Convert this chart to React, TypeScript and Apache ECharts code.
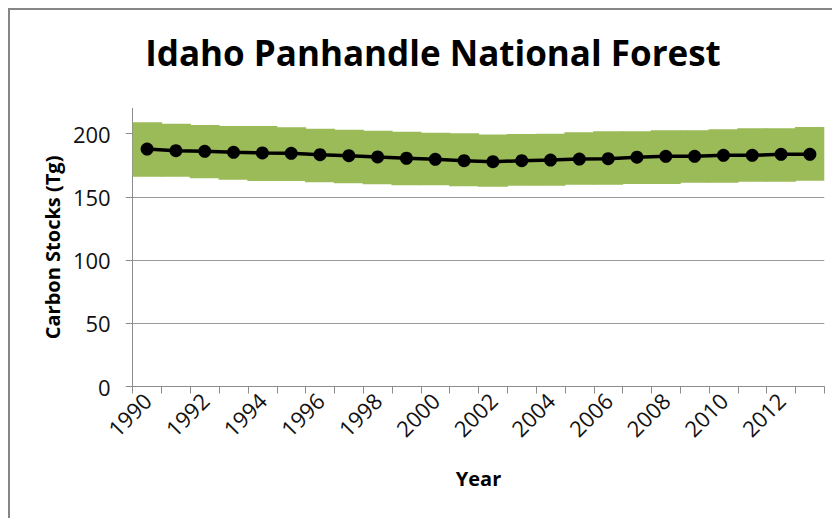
import React, { useEffect, useRef } from "react";
import * as echarts from "echarts";

const years = [
  "1990", "1991", "1992", "1993", "1994", "1995", "1996", "1997", "1998", "1999",
  "2000", "2001", "2002", "2003", "2004", "2005", "2006", "2007", "2008", "2009",
  "2010", "2011", "2012", "2013",
];

const carbonStocks = [
  187.8, 186.5, 186.0, 185.2, 184.7, 184.4, 183.3, 182.5, 181.5, 180.5,
  179.7, 178.6, 177.8, 178.6, 179.1, 179.9, 180.2, 181.3, 182.0, 182.0,
  182.8, 182.8, 183.6, 183.6,
];

const upperBound = [
  209.0, 207.8, 206.8, 206.0, 206.0, 205.0, 203.9, 203.1, 202.3, 201.5,
  200.7, 200.2, 199.3, 199.7, 199.9, 201.0, 201.8, 201.8, 202.6, 202.6,
  203.4, 204.2, 204.2, 205.2,
];

const lowerBound = [
  165.9, 165.9, 164.6, 163.5, 162.5, 162.5, 161.5, 160.7, 159.9, 159.1,
  159.1, 158.3, 158.0, 158.8, 158.8, 159.6, 159.6, 160.2, 160.2, 161.2,
  161.2, 162.0, 162.0, 162.8,
];

const yTicks = [0, 50, 100, 150, 200];

export default function App() {
  const ref = useRef<HTMLDivElement>(null);

  useEffect(() => {
    if (!ref.current) return;
    const chart = echarts.init(ref.current, undefined, { renderer: "svg" });
    const bandWidth = upperBound.map((u, i) => +(u - lowerBound[i]).toFixed(2));
    const font = "Open Sans";
    chart.setOption({
      animation: false,
      backgroundColor: "#ffffff",
      title: {
        text: "Idaho Panhandle National Forest",
        left: 420,
        top: 22,
        textAlign: "center",
        textStyle: {
          fontFamily: font,
          fontWeight: "bold",
          fontSize: 35,
          color: "#000000",
        },
      },
      graphic: [
        {
          type: "rect",
          shape: { x: 1, y: 1, width: 1200, height: 1200 },
          style: { fill: "none", stroke: "#868686", lineWidth: 2 },
          silent: true,
        },
      ],
      grid: { left: 124.7, top: 100.3, right: 15.7, bottom: 131.5 },
      xAxis: {
        type: "category",
        data: years,
        boundaryGap: true,
        name: "Year",
        nameLocation: "middle",
        nameGap: 82,
        nameTextStyle: {
          fontFamily: font,
          fontWeight: "bold",
          fontSize: 20,
          color: "#000000",
        },
        axisLine: { lineStyle: { color: "#8c8c8c", width: 1 } },
        axisTick: {
          show: true,
          interval: 0,
          length: 7,
          lineStyle: { color: "#8c8c8c" },
        },
        axisLabel: {
          interval: 1,
          rotate: 45,
          margin: 10,
          fontFamily: font,
          fontSize: 22,
          color: "#111111",
        },
        splitLine: { show: false },
      },
      yAxis: {
        type: "value",
        min: 0,
        max: 220,
        interval: 50,
        name: "Carbon Stocks (Tg)",
        nameLocation: "middle",
        nameGap: 60,
        nameTextStyle: {
          fontFamily: font,
          fontWeight: "bold",
          fontSize: 20,
          color: "#000000",
        },
        axisLine: { show: true, lineStyle: { color: "#8c8c8c", width: 1 } },
        axisTick: {
          show: true,
          inside: false,
          length: 7,
          customValues: yTicks,
          lineStyle: { color: "#8c8c8c" },
        },
        axisLabel: {
          customValues: yTicks,
          margin: 22,
          fontFamily: font,
          fontSize: 22,
          color: "#111111",
        },
        splitLine: {
          show: true,
          showMaxLine: false,
          showMinLine: false,
          lineStyle: { color: "#9a9a9a", width: 1 },
        },
      },
      series: [
        {
          type: "bar",
          name: "base",
          stack: "band",
          data: lowerBound,
          barWidth: "104%",
          itemStyle: { color: "rgba(0,0,0,0)" },
          silent: true,
          z: 2,
        },
        {
          type: "bar",
          name: "range",
          stack: "band",
          data: bandWidth,
          barWidth: "104%",
          itemStyle: { color: "#9BBB59" },
          silent: true,
          z: 2,
        },
        {
          type: "line",
          name: "Carbon Stocks",
          data: carbonStocks,
          symbol: "circle",
          symbolSize: 13,
          lineStyle: { color: "#000000", width: 3.5 },
          itemStyle: { color: "#000000" },
          z: 5,
        },
      ],
    });
    return () => chart.dispose();
  }, []);

  return <div ref={ref} style={{ width: 832, height: 510 }} />;
}
